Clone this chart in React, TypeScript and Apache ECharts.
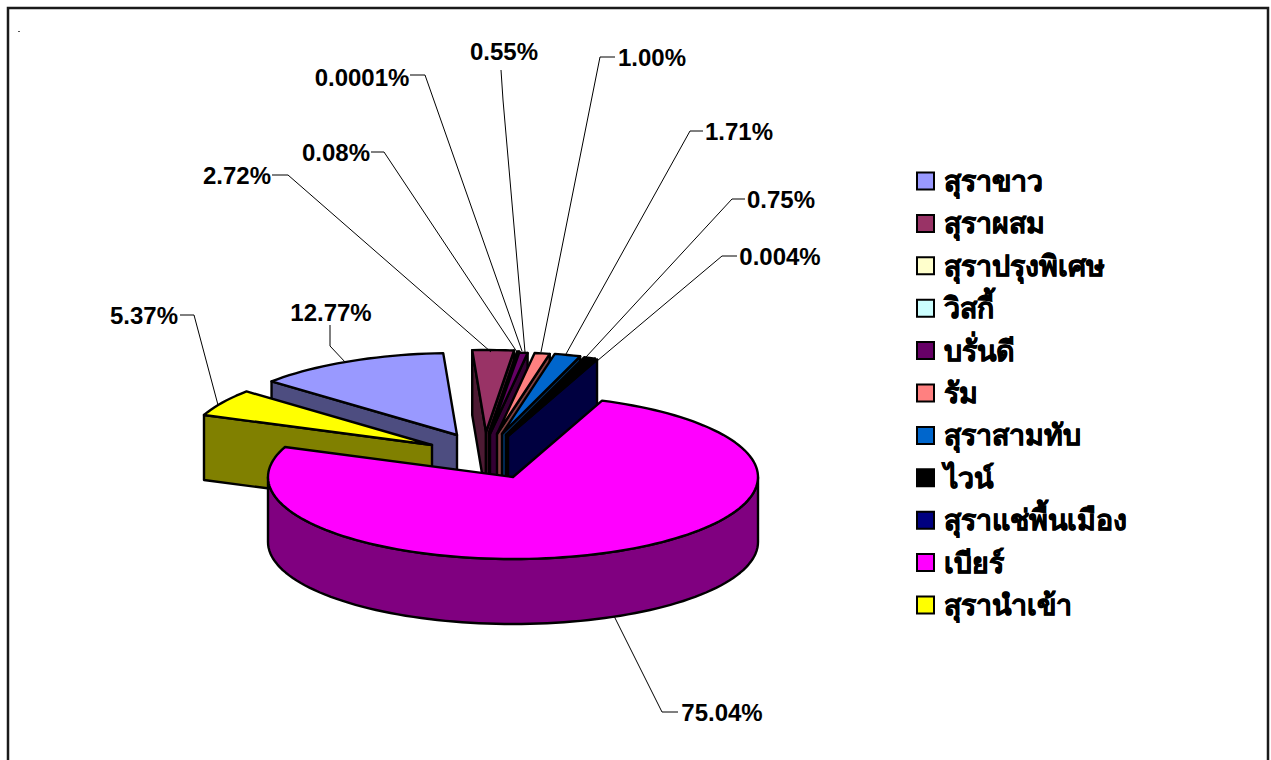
import React, { useEffect, useRef } from "react";
import * as echarts from "echarts";

// ---- data ----
const categories = ["สุราขาว", "สุราผสม", "สุราปรุงพิเศษ", "วิสกี้", "บรั่นดี", "รัม", "สุราสามทับ", "ไวน์", "สุราแช่พื้นเมือง", "เบียร์", "สุรานำเข้า"];
const values = [12.77, 2.72, 0.08, 0.0001, 0.55, 1.0, 1.71, 0.75, 0.004, 75.04, 5.37];
const valueLabels = ["12.77%", "2.72%", "0.08%", "0.0001%", "0.55%", "1.00%", "1.71%", "0.75%", "0.004%", "75.04%", "5.37%"];

// ---- styles ----
const topColors = ["#9999FF", "#993366", "#FFFFCC", "#CCFFFF", "#660066", "#FF8080", "#0066CC", "#000000", "#000080", "#FF00FF", "#FFFF00"];
const wallColors = ["#4D4D80", "#4D1A33", "#808066", "#668080", "#330033", "#804040", "#003366", "#000000", "#000040", "#800080", "#808000"];
const FONT = "'Liberation Sans', Arial, sans-serif";

// ---- layout of the tilted pie (Excel-like 3D exploded pie) ----
const RX = 245;
const RY = 82;
const DEPTH = 65;
const FIRST_ANGLE = 139.2; // parametric angle on the ellipse, clockwise from here
const apexes = [
  [457, 435], [486, 432], [489, 433], [490, 433], [490, 434], [497, 434],
  [502, 434], [506, 435], [508, 436], [513, 477], [432, 445],
];
const drawOrder = [0, 10, 1, 2, 3, 4, 5, 6, 7, 8, 9];
const labelCenters = [
  [331, 312], [237, 175], [336, 152], [362, 77], [504, 51], [652, 57],
  [739, 131], [781, 199], [780, 256], [722, 712], [144, 315],
];
const leaders = [
  [[330, 325], [330, 346], [346, 363]],
  [[272, 175], [288, 175], [491, 352]],
  [[371, 152], [384, 152], [517, 352]],
  [[410, 75], [425, 75], [522, 351]],
  [[501, 70], [503, 100], [525, 352]],
  [[615, 57], [600, 57], [541, 352]],
  [[703, 131], [690, 131], [566, 354]],
  [[745, 199], [732, 199], [586, 357]],
  [[737, 256], [722, 256], [597, 361]],
  [[678, 712], [662, 712], [614, 616]],
  [[180, 315], [194, 315], [218, 405]],
];

const rad = (d: number) => (d * Math.PI) / 180;
const arc = (cx: number, cy: number, from: number, to: number) => {
  const n = Math.max(1, Math.ceil(Math.abs(from - to) / 2));
  const pts: number[][] = [];
  for (let i = 0; i <= n; i++) {
    const t = rad(from + ((to - from) * i) / n);
    pts.push([cx + RX * Math.cos(t), cy - RY * Math.sin(t)]);
  }
  return pts;
};

const renderSlice = (index: number) => () => {
  const before = values.slice(0, index).reduce((a, b) => a + b, 0);
  const total = values.reduce((a, b) => a + b, 0);
  const t1 = FIRST_ANGLE - (before / total) * 360;
  const t2 = t1 - (values[index] / total) * 360;
  const [cx, cy] = apexes[index];
  const stroke = { stroke: "#000", lineWidth: 2.4, lineJoin: "round" };
  const wallStyle = { fill: wallColors[index], ...stroke };
  const children: any[] = [];
  const wall = (t: number) => {
    const p = arc(cx, cy, t, t)[0];
    children.push({
      type: "polygon",
      shape: { points: [[cx, cy], p, [p[0], p[1] + DEPTH], [cx, cy + DEPTH]] },
      style: wallStyle,
    });
  };
  if (Math.cos(rad(t1)) < 0) wall(t1);
  if (Math.cos(rad(t2)) > 0) wall(t2);
  const hi = Math.min(t1, 0);
  const lo = Math.max(t2, -180);
  if (lo < hi) {
    const top = arc(cx, cy, hi, lo);
    const bottom = top.map((p) => [p[0], p[1] + DEPTH]).reverse();
    children.push({ type: "polygon", shape: { points: [...top, ...bottom] }, style: wallStyle });
  }
  children.push({
    type: "polygon",
    shape: { points: [[cx, cy], ...arc(cx, cy, t1, t2)] },
    style: { fill: topColors[index], ...stroke },
  });
  children.push({
    type: "polyline",
    shape: { points: leaders[index] },
    style: { fill: "none", stroke: "#000", lineWidth: 1 },
  });
  children.push({
    type: "text",
    x: labelCenters[index][0],
    y: labelCenters[index][1],
    style: {
      text: valueLabels[index],
      fill: "#000",
      font: `bold 24px ${FONT}`,
      align: "center",
      verticalAlign: "middle",
    },
  });
  return { type: "group", children };
};

export default function App() {
  const ref = useRef<HTMLDivElement>(null);
  useEffect(() => {
    const chart = echarts.init(ref.current!, null, { renderer: "svg" });
    chart.setOption({
      animation: false,
      backgroundColor: "#fff",
      graphic: [
        {
          type: "rect",
          shape: { x: 8, y: 8, width: 1260, height: 800 },
          style: { fill: "none", stroke: "#1a1a1a", lineWidth: 2.5 },
          z: 0,
        },
        {
          type: "rect",
          shape: { x: 18, y: 31, width: 2, height: 1 },
          style: { fill: "#555" },
        },
      ],
      legend: {
        orient: "vertical",
        left: 911,
        top: 161,
        selectedMode: false,
        data: categories,
        icon: "rect",
        itemWidth: 17,
        itemHeight: 17,
        itemGap: 12.4,
        itemStyle: { borderColor: "#000", borderWidth: 2 },
        textStyle: {
          fontFamily: FONT,
          fontWeight: "bold",
          fontSize: 28.5,
          lineHeight: 30,
          color: "#000",
          padding: [0, 0, 0, 5],
          textBorderColor: "#000",
          textBorderWidth: 0.6,
        },
      },
      series: categories.map((name, i) => ({
        type: "custom",
        name,
        coordinateSystem: "none",
        silent: true,
        z: 2 + drawOrder.indexOf(i),
        itemStyle: { color: topColors[i] },
        data: [[values[i]]],
        renderItem: renderSlice(i),
      })),
    });
    return () => chart.dispose();
  }, []);
  return <div ref={ref} style={{ position: "fixed", left: 0, top: 0, width: 1271, height: 760 }} />;
}
